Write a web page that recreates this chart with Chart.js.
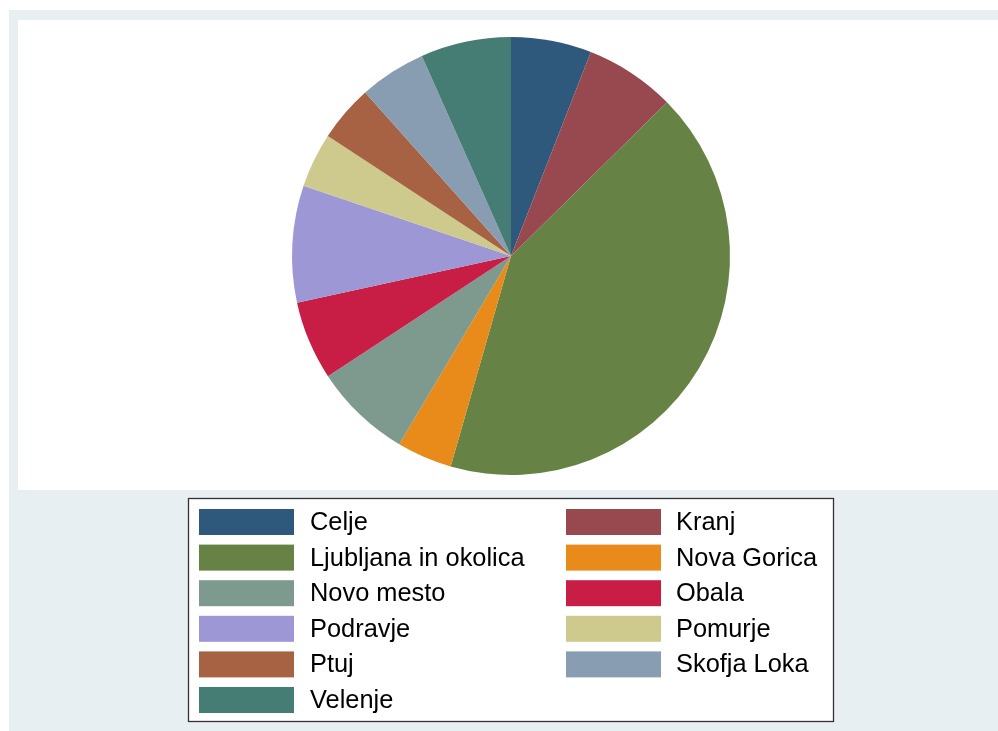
<!DOCTYPE html>
<html>
<head>
<meta charset="utf-8">
<script src="https://cdn.jsdelivr.net/npm/chart.js@4/dist/chart.umd.min.js"></script>
<style>
  html, body { margin: 0; padding: 0; background: #ffffff; }
  #wrap { position: relative; width: 998px; height: 731px; }
</style>
</head>
<body>
<div id="wrap"><canvas id="pieChart" width="998" height="731"></canvas></div>
<script>
// Pie chart of regions (shares)
const regions = ['Celje', 'Kranj', 'Ljubljana in okolica', 'Nova Gorica', 'Novo mesto',
  'Obala', 'Podravje', 'Pomurje', 'Ptuj', 'Skofja Loka', 'Velenje']
const shares = [5.94, 6.67, 41.8, 4.08, 7.22, 5.83, 8.61, 4.03, 4.17, 4.92, 6.67]
const sliceColors = [
  'rgb(47, 88, 125)',
  'rgb(152, 73, 80)',
  'rgb(102, 130, 68)',
  'rgb(232, 139, 26)',
  'rgb(126, 153, 142)',
  'rgb(200, 30, 70)',
  'rgb(158, 151, 214)',
  'rgb(206, 201, 141)',
  'rgb(167, 98, 67)',
  'rgb(137, 157, 178)',
  'rgb(69, 124, 115)',
]

// background, plot region and the two-column legend box
const stataFrame = {
  id: 'stataFrame',
  beforeDraw(chart) {
    const ctx = chart.ctx
    ctx.save()
    ctx.fillStyle = '#ffffff'
    ctx.fillRect(0, 0, 998, 731)
    ctx.fillStyle = '#e8eff2'
    ctx.fillRect(9, 10, 989, 721)
    ctx.fillStyle = '#ffffff'
    ctx.fillRect(18, 20, 980, 470)
    ctx.restore()
  },
  afterDraw(chart) {
    const ctx = chart.ctx
    const ds = chart.data.datasets[0]
    ctx.save()
    ctx.fillStyle = '#ffffff'
    ctx.fillRect(188, 498, 645, 223)
    ctx.strokeStyle = '#333333'
    ctx.lineWidth = 1.3
    ctx.strokeRect(188.5, 498.5, 645, 223)
    ctx.font = '25.4px "Liberation Sans", Arial, sans-serif'
    ctx.textBaseline = 'middle'
    chart.data.labels.forEach((lab, i) => {
      const col = i % 2
      const row = Math.floor(i / 2)
      const sx = col === 0 ? 199 : 566
      const tx = col === 0 ? 310 : 676
      const y = 509 + row * 35.6
      ctx.fillStyle = ds.backgroundColor[i]
      ctx.fillRect(sx, y, 95, 26)
      ctx.fillStyle = '#000000'
      ctx.fillText(lab, tx, y + 14)
    })
    ctx.restore()
  },
}

const config = {
  type: 'pie',
  data: {
    labels: regions,
    datasets: [
      {
        data: shares,
        backgroundColor: sliceColors,
        borderWidth: 0,
      },
    ],
  },
  options: {
    responsive: false,
    animation: false,
    layout: { padding: { left: 292, right: 268, top: 37, bottom: 256 } },
    plugins: {
      legend: { display: false },
      tooltip: { enabled: false },
    },
  },
  plugins: [stataFrame],
}

const myChart = new Chart(document.getElementById('pieChart'), config)
</script>
</body>
</html>
